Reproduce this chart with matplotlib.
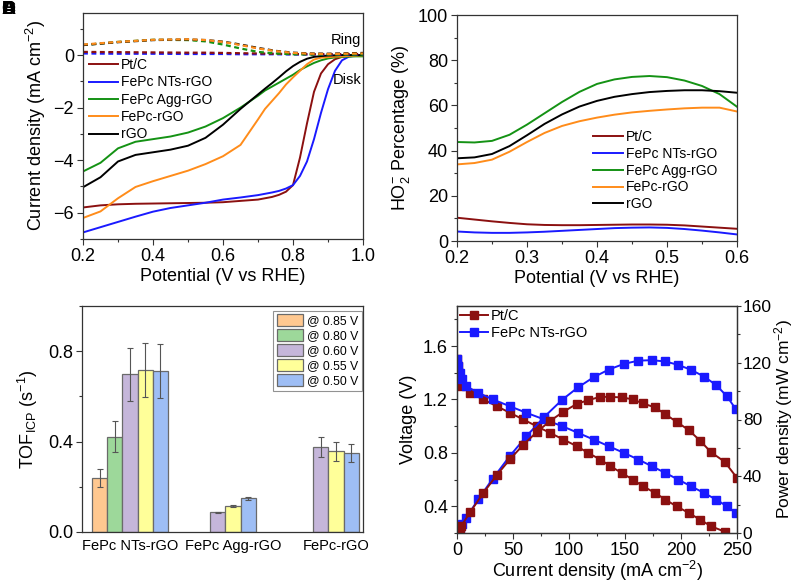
import numpy as np
import matplotlib
matplotlib.use("Agg")
import matplotlib.pyplot as plt
from matplotlib.ticker import MultipleLocator

plt.rcParams['font.family'] = ['Liberation Sans', 'DejaVu Sans']
plt.rcParams['mathtext.default'] = 'regular'

# ---------------- Panel A: RRDE LSV ----------------
lsv_names = ["Pt/C", "FePc NTs-rGO", "FePc Agg-rGO", "FePc-rGO", "rGO"]
disk_E = [0.2, 0.25, 0.3, 0.35, 0.4, 0.45, 0.5, 0.55, 0.6, 0.65, 0.7, 0.72, 0.74,
          0.76, 0.78, 0.8, 0.82, 0.84, 0.86, 0.88, 0.9, 0.92, 0.94, 0.96, 0.98, 1.0]
disk_ptc = [-5.80, -5.72, -5.68, -5.66, -5.65, -5.64, -5.63, -5.62, -5.60, -5.55, -5.50,
            -5.45, -5.40, -5.32, -5.20, -4.95, -3.90, -2.60, -1.40, -0.70, -0.35, -0.16,
            -0.07, -0.03, -0.01, 0.0]
disk_nts = [-6.75, -6.55, -6.35, -6.15, -5.96, -5.82, -5.72, -5.62, -5.50, -5.42, -5.33,
            -5.28, -5.23, -5.17, -5.08, -4.95, -4.60, -4.05, -3.20, -2.20, -1.30, -0.60,
            -0.20, -0.06, -0.02, 0.0]
disk_agg = [-4.43, -4.10, -3.55, -3.30, -3.20, -3.10, -2.95, -2.72, -2.40, -2.00, -1.55,
            -1.35, -1.20, -1.05, -0.90, -0.75, -0.57, -0.43, -0.30, -0.20, -0.13, -0.09,
            -0.07, -0.06, -0.05, -0.05]
disk_fepc = [-6.20, -5.95, -5.45, -5.02, -4.80, -4.60, -4.40, -4.15, -3.85, -3.42, -2.45,
             -2.05, -1.75, -1.45, -1.12, -0.85, -0.60, -0.35, -0.17, -0.10, -0.08, -0.06,
             -0.05, -0.03, -0.02, -0.01]
disk_rgo = [-5.03, -4.65, -4.05, -3.80, -3.70, -3.60, -3.45, -3.15, -2.65, -2.05, -1.50,
            -1.28, -1.07, -0.85, -0.62, -0.42, -0.26, -0.14, -0.07, -0.04, -0.02, -0.01,
            0.0, 0.0, 0.0, 0.0]

ring_E = [0.2, 0.3, 0.4, 0.5, 0.55, 0.6, 0.65, 0.7, 0.75, 0.8, 0.85, 0.9, 1.0]
ring_ptc = [0.12, 0.11, 0.10, 0.09, 0.09, 0.08, 0.07, 0.06, 0.05, 0.04, 0.03, 0.03, 0.04]
ring_nts = [0.06, 0.05, 0.05, 0.04, 0.04, 0.04, 0.03, 0.03, 0.03, 0.02, 0.02, 0.02, 0.02]
ring_agg = [0.38, 0.50, 0.58, 0.57, 0.52, 0.40, 0.25, 0.12, 0.06, 0.03, 0.02, 0.02, 0.02]
ring_fepc = [0.40, 0.50, 0.58, 0.60, 0.57, 0.50, 0.38, 0.25, 0.15, 0.08, 0.05, 0.04, 0.06]
ring_rgo = [0.38, 0.49, 0.57, 0.59, 0.57, 0.51, 0.40, 0.27, 0.16, 0.09, 0.06, 0.05, 0.08]

# ---------------- Panel B: HO2- percentage ----------------
pct_E = [0.2, 0.225, 0.25, 0.275, 0.3, 0.325, 0.35, 0.375, 0.4, 0.425, 0.45, 0.475,
         0.5, 0.525, 0.55, 0.575, 0.6]
pct_ptc = [10.3, 9.5, 8.7, 8.0, 7.4, 7.1, 7.0, 7.0, 7.1, 7.2, 7.3, 7.3, 7.2, 6.9, 6.4, 5.9, 5.4]
pct_nts = [4.2, 3.8, 3.6, 3.6, 3.8, 4.1, 4.5, 4.9, 5.3, 5.7, 5.9, 6.0, 5.8, 5.3, 4.6, 3.8, 2.9]
pct_agg = [43.8, 43.6, 44.3, 47.0, 51.5, 56.5, 61.5, 66.0, 69.5, 71.5, 72.6, 73.0, 72.5,
           71.0, 68.6, 65.0, 59.4]
pct_fepc = [33.9, 34.5, 36.0, 39.5, 43.8, 47.8, 50.9, 53.0, 54.6, 55.9, 56.9, 57.6, 58.2,
            58.7, 59.0, 59.0, 57.3]
pct_rgo = [36.6, 37.0, 38.5, 42.0, 46.8, 51.8, 56.0, 59.5, 62.0, 63.8, 65.0, 65.9, 66.4,
           66.7, 66.7, 66.3, 65.6]

# ---------------- Panel C: TOF bars ----------------
tof_groups = ["FePc NTs-rGO", "FePc Agg-rGO", "FePc-rGO"]
tof_series = ["@ 0.85 V", "@ 0.80 V", "@ 0.60 V", "@ 0.55 V", "@ 0.50 V"]
tof_vals = {
    "@ 0.85 V": [0.240, np.nan, np.nan],
    "@ 0.80 V": [0.422, np.nan, np.nan],
    "@ 0.60 V": [0.698, 0.087, 0.376],
    "@ 0.55 V": [0.716, 0.114, 0.357],
    "@ 0.50 V": [0.713, 0.150, 0.348],
}
tof_errs = {
    "@ 0.85 V": [0.040, np.nan, np.nan],
    "@ 0.80 V": [0.070, np.nan, np.nan],
    "@ 0.60 V": [0.117, 0.003, 0.045],
    "@ 0.55 V": [0.120, 0.005, 0.042],
    "@ 0.50 V": [0.118, 0.007, 0.040],
}

# ---------------- Panel D: fuel cell polarization ----------------
fc_I_ptc = [0.3, 0.8, 1.5, 2.5, 4.0, 11.6, 23.5, 35.4, 47.3, 59.2, 71, 83, 95, 107, 117,
            128, 137, 147, 157, 166, 177, 186, 196, 207, 217, 227, 239, 250]
fc_V_ptc = [1.50, 1.45, 1.40, 1.35, 1.30, 1.25, 1.20, 1.15, 1.10, 1.05, 1.00, 0.95, 0.90,
            0.85, 0.80, 0.75, 0.70, 0.65, 0.60, 0.55, 0.50, 0.45, 0.40, 0.35, 0.30, 0.25,
            0.21, 0.155]
fc_P_ptc = [0.45, 1.2, 2.1, 3.4, 5.2, 14.5, 28.2, 40.7, 52.0, 62.2, 71.0, 78.9, 85.5, 91.0,
            93.6, 96.0, 95.9, 95.6, 94.2, 91.3, 88.5, 83.7, 78.4, 72.5, 65.1, 56.8, 50.2, 38.8]
fc_I_nts = [0.3, 1.0, 2.5, 4.5, 8.0, 19, 32, 47, 62, 78, 94, 108, 122, 135.5, 149, 162,
            174, 186, 197.5, 209, 220.5, 231.5, 241, 249]
fc_V_nts = [1.50, 1.45, 1.40, 1.35, 1.30, 1.25, 1.20, 1.15, 1.10, 1.05, 1.00, 0.95, 0.90,
            0.85, 0.80, 0.75, 0.70, 0.65, 0.60, 0.55, 0.50, 0.45, 0.40, 0.35]
fc_P_nts = [0.45, 1.45, 3.5, 6.1, 10.4, 23.8, 38.4, 54.1, 68.2, 81.9, 94.0, 102.6, 109.8,
            115.2, 119.2, 121.5, 121.8, 120.9, 118.5, 115.0, 110.3, 104.2, 96.4, 87.2]

# ---------------- styling ----------------
c_ptc = '#8B1010'
c_nts = '#1A1AFF'
c_agg = '#149214'
c_fepc = '#FF8C1A'
c_rgo = '#000000'
spine_c = '#333333'
bar_colors = ['#FFC890', '#9DD89A', '#C5B6DA', '#FFFF99', '#9EBEF5']

fig = plt.figure(figsize=(7.96, 5.83), dpi=100)

def style_axes(ax):
    for s in ax.spines.values():
        s.set_color(spine_c)
        s.set_linewidth(0.9)
    ax.tick_params(which='both', direction='out', color=spine_c, width=0.8,
                   labelsize=13, top=False, right=False, pad=2.5)
    ax.tick_params(which='major', length=4)
    ax.tick_params(which='minor', length=2.5)

# Panel A
axA = fig.add_axes([83/796, 1-239/583, 280/796, 226/583])
style_axes(axA)
disk_sets = [disk_ptc, disk_nts, disk_agg, disk_fepc, disk_rgo]
cols = [c_ptc, c_nts, c_agg, c_fepc, c_rgo]
for name, d, col in zip(lsv_names, disk_sets, cols):
    axA.plot(disk_E, d, color=col, lw=1.4, label=name)
for r, col in zip([ring_nts, ring_ptc, ring_agg, ring_rgo, ring_fepc],
                  [c_nts, c_ptc, c_agg, c_rgo, c_fepc]):
    axA.plot(ring_E, r, color=col, lw=1.6, ls=(0, (2.2, 1.6)))
axA.set_xlim(0.2, 1.0)
axA.set_ylim(-7, 1.6)
axA.xaxis.set_major_locator(MultipleLocator(0.2))
axA.xaxis.set_minor_locator(MultipleLocator(0.1))
axA.yaxis.set_major_locator(MultipleLocator(2))
axA.yaxis.set_minor_locator(MultipleLocator(1))
axA.xaxis.set_major_formatter(matplotlib.ticker.FormatStrFormatter('%.1f'))
axA.set_xlabel('Potential (V vs RHE)', fontsize=13, labelpad=2)
axA.set_ylabel('Current density (mA cm$^{-2}$)', fontsize=13, labelpad=4)
axA.text(0.995, 0.57, 'Ring', fontsize=10.5, ha='right', va='center')
axA.text(0.995, -0.95, 'Disk', fontsize=10.5, ha='right', va='center')
axA.legend(loc='upper left', bbox_to_anchor=(0.0, 0.825), frameon=False, fontsize=10,
           borderaxespad=0, borderpad=0.4, handlelength=2.15, handletextpad=0.2,
           labelspacing=0.24)

# Panel B
axB = fig.add_axes([457/796, 1-241/583, 280/796, 226/583])
style_axes(axB)
for name, d, col in zip(lsv_names, [pct_ptc, pct_nts, pct_agg, pct_fepc, pct_rgo], cols):
    axB.plot(pct_E, d, color=col, lw=1.4, label=name)
axB.set_xlim(0.2, 0.6)
axB.set_ylim(0, 100)
axB.xaxis.set_major_locator(MultipleLocator(0.1))
axB.xaxis.set_minor_locator(MultipleLocator(0.05))
axB.yaxis.set_major_locator(MultipleLocator(20))
axB.yaxis.set_minor_locator(MultipleLocator(10))
axB.set_xlabel('Potential (V vs RHE)', fontsize=13, labelpad=2)
axB.set_ylabel('HO$_2^{-}$ Percentage (%)', fontsize=13, labelpad=4)
axB.legend(loc='upper left', bbox_to_anchor=(0.466, 0.515), frameon=False, fontsize=10,
           borderaxespad=0, borderpad=0.4, handlelength=2.15, handletextpad=0.2,
           labelspacing=0.2)

# Panel C
axC = fig.add_axes([82/796, 1-532/583, 281/796, 226/583])
style_axes(axC)
group_x = np.arange(len(tof_groups))
bw = 0.146
for g in range(len(tof_groups)):
    present = [s for s in tof_series if not np.isnan(tof_vals[s][g])]
    n = len(present)
    for k, s in enumerate(present):
        xpos = group_x[g] + (k - (n - 1) / 2) * bw
        col = bar_colors[tof_series.index(s)]
        axC.bar(xpos, tof_vals[s][g], width=bw, color=col, edgecolor='#6a6a6a', lw=0.9,
                label=s if g == 0 else None, zorder=2)
        axC.errorbar(xpos, tof_vals[s][g], yerr=tof_errs[s][g], fmt='none',
                     ecolor='#555555', elinewidth=0.8, capsize=2.5, capthick=0.8, zorder=3)
axC.set_xlim(-0.466, 2.262)
axC.set_ylim(0, 1.0)
axC.set_xticks(group_x)
axC.set_xticklabels(tof_groups, fontsize=10.5)
axC.tick_params(axis='x', length=0, pad=5)
axC.yaxis.set_major_locator(MultipleLocator(0.4))
axC.yaxis.set_minor_locator(MultipleLocator(0.2))
axC.yaxis.set_major_formatter(matplotlib.ticker.FormatStrFormatter('%.1f'))
axC.set_ylabel('TOF$_{ICP}$ (s$^{-1}$)', fontsize=13, labelpad=6)
legC = axC.legend(loc='upper right', bbox_to_anchor=(1.0, 0.985), fontsize=8.8,
                  frameon=True, fancybox=False, edgecolor='#777777', borderaxespad=0.1,
                  borderpad=0.3, handlelength=2.1, handleheight=1.05, handletextpad=0.35,
                  labelspacing=0.18)
legC.get_frame().set_linewidth(0.8)

# Panel D
axD = fig.add_axes([457/796, 1-533/583, 280/796, 227/583])
style_axes(axD)
axD2 = axD.twinx()
for s in axD2.spines.values():
    s.set_color(spine_c)
    s.set_linewidth(0.9)
axD2.tick_params(which='both', direction='out', color=spine_c, width=0.8, labelsize=12.5,
                 pad=1.2)
axD2.tick_params(which='major', length=3)
axD2.tick_params(which='minor', length=2)
axD.plot(fc_I_ptc, fc_V_ptc, color=c_ptc, lw=1.4, marker='s', ms=5.2, label='Pt/C')
axD.plot(fc_I_nts, fc_V_nts, color=c_nts, lw=1.4, marker='s', ms=5.2, label='FePc NTs-rGO')
axD2.plot(fc_I_nts, fc_P_nts, color=c_nts, lw=1.4, marker='s', ms=5.2)
axD2.plot(fc_I_ptc, fc_P_ptc, color=c_ptc, lw=1.4, marker='s', ms=5.2)
axD.set_xlim(0, 250)
axD.set_ylim(0.2, 1.9)
axD2.set_ylim(0, 160)
axD.xaxis.set_major_locator(MultipleLocator(50))
axD.xaxis.set_minor_locator(MultipleLocator(25))
axD.yaxis.set_major_locator(MultipleLocator(0.4))
axD.yaxis.set_minor_locator(MultipleLocator(0.2))
axD.yaxis.set_major_formatter(matplotlib.ticker.FormatStrFormatter('%.1f'))
axD2.yaxis.set_major_locator(MultipleLocator(40))
axD2.yaxis.set_minor_locator(MultipleLocator(20))
axD.set_xlabel('Current density (mA cm$^{-2}$)', fontsize=13, labelpad=0)
axD.set_ylabel('Voltage (V)', fontsize=13, labelpad=4)
axD2.set_ylabel('Power density (mW cm$^{-2}$)', fontsize=12.5, labelpad=0.5)
axD.legend(loc='upper left', bbox_to_anchor=(0.0, 1.0), frameon=False, fontsize=10.5,
           borderaxespad=0, borderpad=0.2, handlelength=1.9, handletextpad=0.2,
           labelspacing=0.22)

# Overlapping panel letters
for letter in ['A', 'B', 'C', 'D']:
    fig.text(0.002, 0.998, letter, fontsize=14, fontweight='bold', ha='left', va='top')

fig.savefig('out.png', dpi=100)
